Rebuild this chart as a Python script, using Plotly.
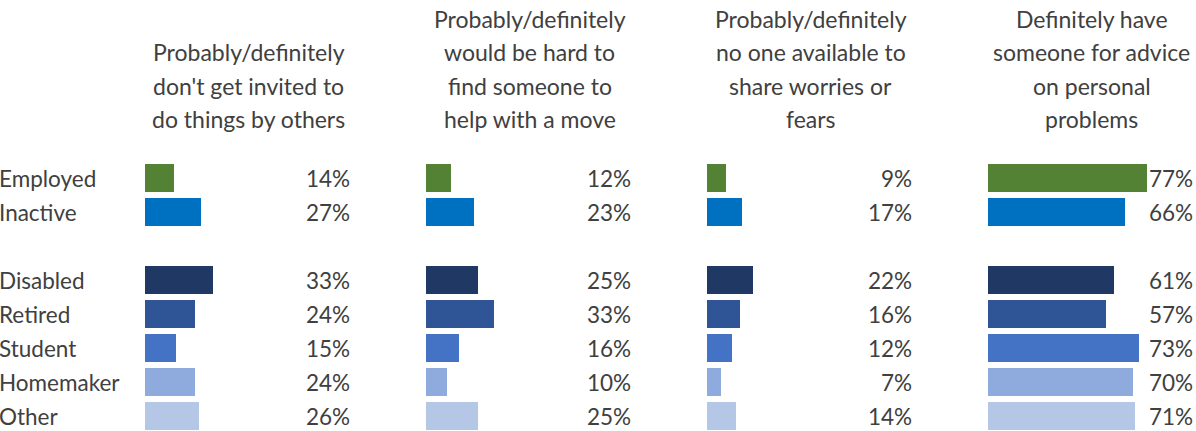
import plotly.graph_objects as go

groups = ["Employed", "Inactive", "Disabled", "Retired", "Student", "Homemaker", "Other"]
row_pos = [0, 1, 3, 4, 5, 6, 7]
colors = ["#548235", "#0070C0", "#203864", "#2F5597", "#4472C4", "#8FAADC", "#B4C7E7"]

headers = [
    ["Probably/definitely", "don't get invited to", "do things by others"],
    ["Probably/definitely", "would be hard to", "find someone to", "help with a move"],
    ["Probably/definitely", "no one available to", "share worries or", "fears"],
    ["Definitely have", "someone for advice", "on personal", "problems"],
]
invited = [14, 27, 33, 24, 15, 24, 26]
move_help = [12, 23, 25, 33, 16, 10, 25]
worries = [9, 17, 22, 16, 12, 7, 14]
advice = [77, 66, 61, 57, 73, 70, 71]
panels = [invited, move_help, worries, advice]

W, H = 1196, 431
FONT = "Lato, 'Open Sans', sans-serif"
TXT = "#404040"
FS = 22.5
FS_HEAD = 23

fig = go.Figure()
row0_px, row_step = 178, 34
y_top = -row0_px / row_step
y_bot = (H - row0_px) / row_step

annotations = []
for i, vals in enumerate(panels):
    ax = "" if i == 0 else str(i + 1)
    x0 = (145 + 281 * i) / W
    x1 = x0 + 207 / W
    fig.add_trace(go.Bar(
        x=vals, y=row_pos, orientation="h",
        marker=dict(color=colors, line=dict(width=0)),
        width=0.82, showlegend=False, hoverinfo="skip",
        xaxis="x" + ax, yaxis="y",
    ))
    fig.update_layout(**{
        "xaxis" + ax: dict(domain=[x0, x1], range=[0, 100], visible=False, fixedrange=True),
    })
    for v, p in zip(vals, row_pos):
        annotations.append(dict(
            x=100, y=p, xref="x" + ax, yref="y", text=f"{v}%",
            xanchor="right", yanchor="middle", showarrow=False,
            font=dict(family=FONT, size=FS, color=TXT),
        ))
    lines = headers[i]
    n = len(lines)
    for j, line in enumerate(lines):
        ypx = 119 - 33.5 * (n - 1 - j)
        annotations.append(dict(
            x=(x0 + x1) / 2, y=1 - ypx / H, xref="paper", yref="paper", text=line,
            xanchor="center", yanchor="middle", showarrow=False,
            font=dict(family=FONT, size=FS_HEAD, color=TXT),
        ))

for g, p in zip(groups, row_pos):
    annotations.append(dict(
        x=0, y=p, xref="paper", yref="y", text=g, xanchor="left", yanchor="middle",
        showarrow=False, xshift=-3, font=dict(family=FONT, size=FS, color=TXT),
    ))

fig.update_layout(
    width=W, height=H,
    margin=dict(l=0, r=0, t=0, b=0),
    paper_bgcolor="white", plot_bgcolor="white",
    yaxis=dict(domain=[0, 1], range=[y_bot, y_top], visible=False, fixedrange=True),
    annotations=annotations,
    bargap=0,
)

fig.write_html("out.html")
